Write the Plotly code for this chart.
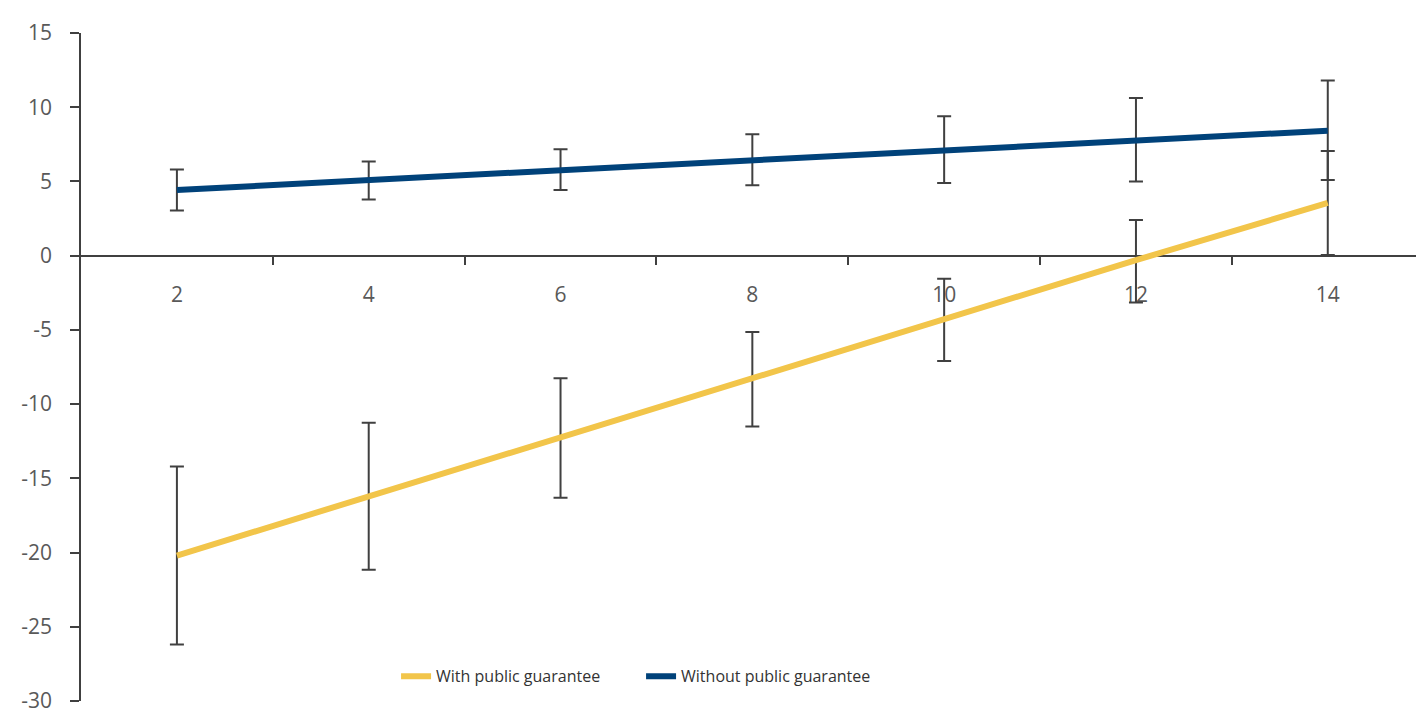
import plotly.graph_objects as go

# Horizon (years) and estimated effects with confidence bands
horizon = [2, 4, 6, 8, 10, 12, 14]

with_guarantee = [-20.2, -16.2, -12.2, -8.3, -4.3, -0.3, 3.55]
with_err_plus = [6.0, 4.95, 3.95, 3.15, 2.75, 2.7, 3.5]
with_err_minus = [6.0, 4.95, 4.1, 3.2, 2.8, 2.85, 3.5]

without_guarantee = [4.42, 5.1, 5.77, 6.43, 7.1, 7.72, 8.42]
without_err_plus = [1.38, 1.25, 1.4, 1.75, 2.3, 2.9, 3.38]
without_err_minus = [1.38, 1.32, 1.35, 1.68, 2.2, 2.72, 3.33]

y_ticks = [-30, -25, -20, -15, -10, -5, 0, 5, 10, 15]

YELLOW = "#F2C54A"
BLUE = "#00427A"
BAR = "#404040"
TEXT = "#595959"

fig = go.Figure()

# Confidence intervals drawn first so the lines sit on top of them
for vals, plus, minus in [
    (without_guarantee, without_err_plus, without_err_minus),
    (with_guarantee, with_err_plus, with_err_minus),
]:
    fig.add_trace(go.Scatter(
        x=horizon, y=vals, mode="markers",
        marker=dict(size=1, color="rgba(0,0,0,0)"),
        error_y=dict(type="data", symmetric=False, array=plus, arrayminus=minus,
                     color=BAR, thickness=2, width=7),
        showlegend=False, hoverinfo="skip",
    ))

fig.add_trace(go.Scatter(
    x=horizon, y=with_guarantee, mode="lines",
    line=dict(color=YELLOW, width=6), name="With public guarantee",
))
fig.add_trace(go.Scatter(
    x=horizon, y=without_guarantee, mode="lines",
    line=dict(color=BLUE, width=6), name="Without public guarantee",
))

fig.update_layout(
    width=1416, height=715,
    margin=dict(l=81, r=0, t=33, b=14),
    paper_bgcolor="white", plot_bgcolor="white",
    font=dict(family="Open Sans", size=21, color=TEXT),
    showlegend=True,
    legend=dict(
        orientation="h", x=0.236, xanchor="left", y=0.037, yanchor="middle",
        font=dict(family="Open Sans", size=16, color="#333333"),
        bgcolor="rgba(0,0,0,0)", traceorder="normal",
        entrywidth=200,
    ),
    xaxis=dict(
        range=[1, 14.92],
        anchor="free", position=30 / 45, automargin=False,
        showline=True, linecolor=BAR, linewidth=1.5,
        tickvals=horizon, ticktext=[str(h) for h in horizon],
        ticks="", ticklabelstandoff=20, showgrid=False, zeroline=False,
        minor=dict(tickvals=[3, 5, 7, 9, 11, 13], ticks="outside",
                   ticklen=9, tickcolor=BAR, tickwidth=1.5, showgrid=False),
        tickfont=dict(size=21, color=TEXT),
        layer="below traces",
    ),
    yaxis=dict(
        range=[-30, 15], automargin=False,
        tickvals=y_ticks, ticktext=[str(v) for v in y_ticks],
        showline=True, linecolor=BAR, linewidth=1.5,
        ticks="outside", ticklen=9, tickcolor=BAR, tickwidth=1.5,
        ticklabelstandoff=14, ticklabeloverflow="allow",
        showgrid=False, zeroline=False,
        tickfont=dict(size=21, color=TEXT),
        layer="below traces",
    ),
)

fig.write_html("out.html")
